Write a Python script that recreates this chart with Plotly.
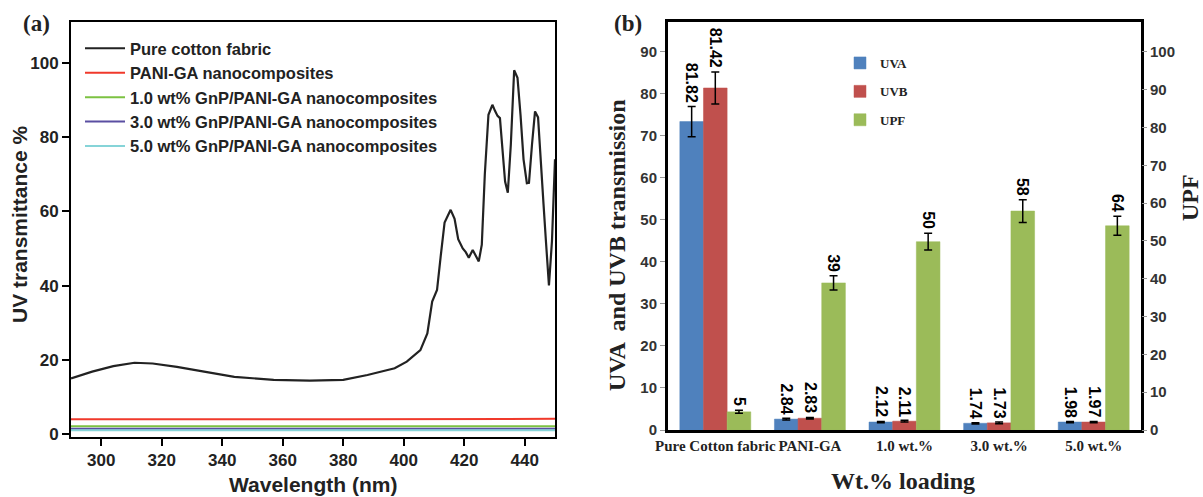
import plotly.graph_objects as go

# ---------------- Panel (a) data ----------------
wl_cotton = [290, 297, 304, 311, 317, 325, 334, 344, 357, 369, 380, 388, 397, 401,
             405.5, 407.8, 409.4, 411, 412.2, 413.5, 415.5, 416.8, 418, 419.5, 420.5,
             421.5, 422.8, 424, 424.8, 425.8, 426.8, 428, 429.3, 430.2, 431, 431.8,
             432.6, 433.5, 434.4, 435.4, 436.5, 437.6, 438.6, 439.6, 440.7, 441.4,
             442.4, 443.4, 444.4, 445.3, 446.2, 447, 448, 449, 450]
t_cotton = [15.0, 16.8, 18.3, 19.2, 19.0, 18.1, 16.8, 15.4, 14.6, 14.4, 14.6, 15.9, 17.7, 19.5,
            22.6, 27.1, 35.7, 38.8, 47.8, 57.0, 60.4, 58.0, 52.5, 50.0, 49.0,
            47.5, 49.6, 47.5, 46.5, 51.0, 70.0, 86.0, 88.7, 87.0, 85.7, 85.1,
            78.0, 68.0, 65.0, 78.0, 98.0, 96.0, 86.0, 74.0, 67.6, 67.7,
            78.0, 86.9, 85.3, 75.0, 62.0, 52.0, 40.0, 52.0, 74.0]

wl_flat = [290, 320, 350, 380, 410, 450]
t_pani = [4.0, 4.1, 4.0, 4.0, 4.1, 4.1]
t_gnp1 = [2.1, 2.1, 2.1, 2.1, 2.1, 2.1]
t_gnp3 = [1.4, 1.4, 1.4, 1.4, 1.4, 1.4]
t_gnp5 = [1.0, 1.0, 1.0, 1.0, 1.0, 1.0]

names_a = ["Pure cotton fabric", "PANI-GA nanocomposites",
           "1.0 wt% GnP/PANI-GA nanocomposites", "3.0 wt% GnP/PANI-GA nanocomposites",
           "5.0 wt% GnP/PANI-GA nanocomposites"]
colors_a = ["#222222", "#f0392b", "#7cc242", "#5a4fa2", "#86d4d8"]

x_ticks_a = [300, 320, 340, 360, 380, 400, 420, 440]
y_ticks_a = [0, 20, 40, 60, 80, 100]

# ---------------- Panel (b) data ----------------
categories = ["Pure Cotton fabric", "PANI-GA", "1.0 wt.%", "3.0 wt.%", "5.0 wt.%"]
uva = [73.4, 2.6, 1.9, 1.6, 1.9]
uvb = [81.4, 2.8, 2.1, 1.7, 1.9]
upf = [4.8, 38.9, 49.8, 57.9, 54.0]
uva_err = [3.6, 0.2, 0.15, 0.15, 0.15]
uvb_err = [3.8, 0.2, 0.2, 0.2, 0.15]
upf_err = [0.4, 1.9, 2.2, 3.0, 2.5]
uva_lbl = ["81.82", "2.84", "2.12", "1.74", "1.98"]
uvb_lbl = ["81.42", "2.83", "2.11", "1.73", "1.97"]
upf_lbl = ["5", "39", "50", "58", "64"]
left_ticks_b = [0, 10, 20, 30, 40, 50, 60, 70, 80, 90]
right_ticks_b = [0, 10, 20, 30, 40, 50, 60, 70, 80, 90, 100]

SANS = "Liberation Sans, Arial, sans-serif"
SERIF = "Liberation Serif, Times New Roman, serif"
W, H = 1203, 497

fig = go.Figure()

series_a = [(wl_cotton, t_cotton), (wl_flat, t_pani), (wl_flat, t_gnp1),
            (wl_flat, t_gnp3), (wl_flat, t_gnp5)]
for (xs, ys), nm, col in zip(series_a, names_a, colors_a):
    fig.add_trace(go.Scatter(x=xs, y=ys, name=nm, mode="lines",
                             line=dict(color=col, width=2.2 if col == "#222222" else 2),
                             xaxis="x", yaxis="y", legend="legend"))

bw = 0.25
specs = [("UVA", uva, uva_err, "#4F81BD", "y2", -0.375, uva_lbl),
         ("UVB", uvb, uvb_err, "#C0504D", "y2", -0.125, uvb_lbl),
         ("UPF", upf, upf_err, "#9BBB59", "y3", 0.125, upf_lbl)]
xidx = list(range(len(categories)))
for nm, vals, errs, col, ya, off, lbls in specs:
    fig.add_trace(go.Bar(x=xidx, y=vals, name=nm, width=bw, offset=off,
                         marker=dict(color=col, line=dict(color=col, width=0.5)),
                         error_y=dict(type="data", array=errs, color="black",
                                      thickness=1.5, width=4),
                         legendgroup=nm,
                         xaxis="x2", yaxis=ya, legend="legend2"))

annotations = []
for nm, vals, errs, col, ya, off, lbls in specs:
    for i, (v, e, t) in enumerate(zip(vals, errs, lbls)):
        annotations.append(dict(x=i + off + bw / 2, y=v + e, xref="x2", yref=ya,
                                text=t, showarrow=False, textangle=90,
                                yanchor="bottom", xanchor="center", yshift=2,
                                font=dict(family=SANS, size=16, color="black", weight="bold")))

def px(xp):
    return xp / W

def py(yp):
    return (H - yp) / H

def lab(text, x, y, family, size, angle=0):
    return dict(text=text, x=px(x), y=py(y), xref="paper", yref="paper",
                xanchor="center", yanchor="middle", showarrow=False, textangle=angle,
                font=dict(family=family, size=size, color="#222", weight="bold"))

annotations += [
    lab("(a)", 36, 24, SERIF, 23),
    lab("(b)", 628, 24, SERIF, 23),
    lab("UV transmittance %", 20, 224, SANS, 21, -90),
    lab("Wavelength (nm)", 313, 484, SANS, 21),
    lab("UVA  and UVB transmission", 617, 245, SERIF, 24, -90),
    lab("UPF", 1190, 198, SERIF, 24, -90),
    lab("Wt.% loading", 903, 481, SERIF, 24),
]

tickfont_a = dict(family=SANS, size=17, color="#222", weight="bold")
tickfont_b = dict(family=SANS, size=15, color="#333", weight="bold")

fig.update_layout(
    width=W, height=H, margin=dict(l=0, r=0, t=0, b=0),
    paper_bgcolor="white", plot_bgcolor="white",
    showlegend=True,
    xaxis=dict(domain=[px(71), px(555)], range=[290, 450], anchor="y",
               tickvals=x_ticks_a, ticks="outside", ticklen=7, tickwidth=2,
               tickcolor="black", showline=True, linecolor="black", linewidth=2,
               mirror=True, showgrid=False, zeroline=False, tickfont=tickfont_a,
               automargin=False),
    yaxis=dict(domain=[py(437), py(22)], range=[-0.8, 111], anchor="x",
               tickvals=y_ticks_a, ticks="outside", ticklen=7, tickwidth=2,
               tickcolor="black", showline=True, linecolor="black", linewidth=2,
               mirror=True, showgrid=False, zeroline=False, tickfont=tickfont_a,
               automargin=False),
    xaxis2=dict(domain=[px(668), px(1141)], range=[-0.5, 4.5], anchor="y2",
                tickvals=xidx, ticktext=categories, ticks="", tickangle=0,
                showline=True, linecolor="black", linewidth=3, mirror=True,
                showgrid=False, zeroline=False, automargin=False,
                tickfont=dict(family=SERIF, size=15, color="#222", weight="bold")),
    yaxis2=dict(domain=[py(430), py(22)], range=[0, 97.1], anchor="x2",
                tickvals=left_ticks_b, ticks="outside", ticklen=5, tickwidth=1,
                tickcolor="#999", showline=True, linecolor="black", linewidth=3,
                mirror=True, showgrid=False, zeroline=False, tickfont=tickfont_b,
                automargin=False),
    yaxis3=dict(range=[0, 107.9], overlaying="y2", side="right", anchor="x2",
                tickvals=right_ticks_b, ticks="outside", ticklen=5, tickwidth=1,
                tickcolor="#999", showline=False, showgrid=False, zeroline=False,
                tickfont=tickfont_b, automargin=False),
    legend=dict(x=px(80), y=py(31), xanchor="left", yanchor="top",
                bgcolor="rgba(0,0,0,0)", itemwidth=40,
                font=dict(family=SANS, size=16.5, color="#222", weight="bold")),
    legend2=dict(x=px(840), y=py(48), xanchor="left", yanchor="top",
                 bgcolor="rgba(0,0,0,0)", tracegroupgap=8.5, traceorder="grouped",
                 font=dict(family=SERIF, size=13, color="#222", weight="bold")),
    annotations=annotations,
    bargap=0.25,
)

fig.write_html("out.html")
